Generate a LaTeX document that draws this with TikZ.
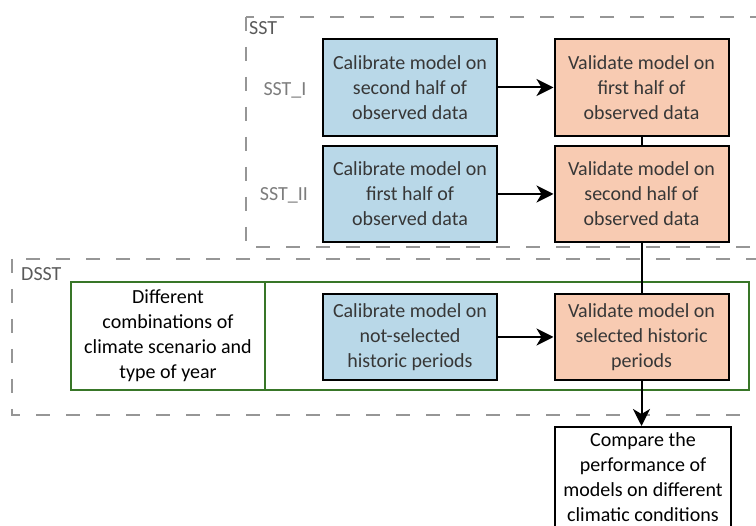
\documentclass[tikz,border=0pt]{standalone}
\usepackage{fontspec}
\setmainfont{Carlito}
\usetikzlibrary{arrows.meta}
\definecolor{calib}{RGB}{185,216,232}
\definecolor{valid}{RGB}{248,203,178}
\definecolor{framegreen}{RGB}{56,118,40}
\definecolor{grpline}{RGB}{150,150,150}
\definecolor{grptext}{RGB}{90,90,90}
\definecolor{runtext}{RGB}{125,125,125}
\definecolor{boxtext}{RGB}{55,55,55}

\begin{document}
\begin{tikzpicture}[x=1pt,y=-1pt,
  stage/.style={draw=black, line width=2pt, minimum width=174pt, align=center,
    font=\fontsize{20}{25}\selectfont, text=boxtext, inner sep=0pt},
  calbox/.style={stage, fill=calib},
  valbox/.style={stage, fill=valid},
  group/.style={draw=grpline, line width=1.5pt, dash pattern=on 14pt off 16pt},
  grouplabel/.style={font=\fontsize{20}{24}\selectfont, text=grptext, anchor=base west, inner sep=0pt},
  runlabel/.style={font=\fontsize{20}{24}\selectfont, text=runtext, inner sep=0pt},
  cell/.style={draw=framegreen, line width=1.5pt, inner sep=0pt, minimum height=108pt},
  flow/.style={line width=2pt, -{Stealth[length=17pt,width=17pt,inset=5pt]}},
  link/.style={line width=2pt}]
\clip (0,0) rectangle (756,526);

% split-sample test group
\draw[group] (246,17) rectangle (800,247);
\node[grouplabel] (sst) at (249,35) {SST};
\node[runlabel] (sst1) at (285,90) {SST\_I};
\node[runlabel] (sst2) at (284,195) {SST\_II};

\node[calbox, minimum height=97pt] (c1) at (410,87.5) {Calibrate model on\\second half of\\observed data};
\node[valbox, minimum height=97pt] (v1) at (641.5,87.5) {Validate model on\\first half of\\observed data};
\node[calbox, minimum height=96pt] (c2) at (410,194) {Calibrate model on\\first half of\\observed data};
\node[valbox, minimum height=96pt] (v2) at (641.5,194) {Validate model on\\second half of\\observed data};

% differential split-sample test group
\draw[group] (12,259) rectangle (800,415);
\node[grouplabel] (dsst) at (21,281) {DSST};

\node[cell, minimum width=678pt] (dframe) at (410,336) {};
\node[cell, minimum width=194pt, align=center, font=\fontsize{20}{25}\selectfont, text=black] (combo) at (168,336)
  {Different\\combinations of\\climate scenario and\\type of year};

\node[calbox, minimum height=86pt] (c3) at (410,337) {Calibrate model on\\not-selected\\historic periods};
\node[valbox, minimum height=86pt] (v3) at (641.5,337) {Validate model on\\selected historic\\periods};

% comparison box, running past the lower edge
\node[draw=black, line width=2pt, minimum width=176pt, minimum height=110pt, inner sep=0pt,
  align=center, font=\fontsize{20}{25}\selectfont] (cmp) at (643,482)
  {Compare the\\performance of\\models on different\\climatic conditions\vspace{10pt}};

% connectors
\draw[flow] (c1) -- (v1);
\draw[flow] (c2) -- (v2);
\draw[flow] (c3) -- (v3);
\draw[link] (v1) -- (v2);
\draw[link] (v2) -- (v3);
\draw[flow] (v3.south) -- (v3.south |- cmp.north);
\end{tikzpicture}
\end{document}
